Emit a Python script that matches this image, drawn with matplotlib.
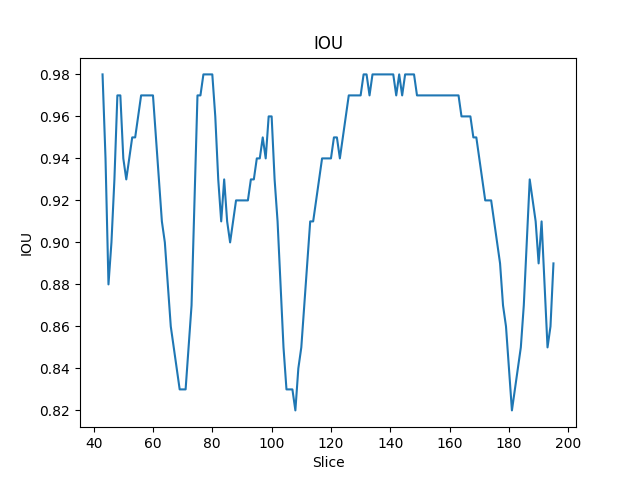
import matplotlib
matplotlib.use('Agg')
from matplotlib import pyplot as plt

# slice numbers run consecutively from 43 to 195
slices = list(range(43, 196))

iou = [
    0.98, 0.94, 0.88, 0.90, 0.93, 0.97, 0.97, 0.94, 0.93, 0.94,  # 43-52
    0.95, 0.95, 0.96, 0.97, 0.97, 0.97, 0.97, 0.97, 0.95, 0.93,  # 53-62
    0.91, 0.90, 0.88, 0.86, 0.85, 0.84, 0.83, 0.83, 0.83, 0.85,  # 63-72
    0.87, 0.92, 0.97, 0.97, 0.98, 0.98, 0.98, 0.98, 0.96, 0.93,  # 73-82
    0.91, 0.93, 0.91, 0.90, 0.91, 0.92, 0.92, 0.92, 0.92, 0.92,  # 83-92
    0.93, 0.93, 0.94, 0.94, 0.95, 0.94, 0.96, 0.96, 0.93, 0.91,  # 93-102
    0.88, 0.85, 0.83, 0.83, 0.83, 0.82, 0.84, 0.85, 0.87, 0.89,  # 103-112
    0.91, 0.91, 0.92, 0.93, 0.94, 0.94, 0.94, 0.94, 0.95, 0.95,  # 113-122
    0.94, 0.95, 0.96, 0.97, 0.97, 0.97, 0.97, 0.97, 0.98, 0.98,  # 123-132
    0.97, 0.98, 0.98, 0.98, 0.98, 0.98, 0.98, 0.98, 0.98, 0.97,  # 133-142
    0.98, 0.97, 0.98, 0.98, 0.98, 0.98, 0.97, 0.97, 0.97, 0.97,  # 143-152
    0.97, 0.97, 0.97, 0.97, 0.97, 0.97, 0.97, 0.97, 0.97, 0.97,  # 153-162
    0.97, 0.96, 0.96, 0.96, 0.96, 0.95, 0.95, 0.94, 0.93, 0.92,  # 163-172
    0.92, 0.92, 0.91, 0.90, 0.89, 0.87, 0.86, 0.84, 0.82, 0.83,  # 173-182
    0.84, 0.85, 0.87, 0.90, 0.93, 0.92, 0.91, 0.89, 0.91, 0.88,  # 183-192
    0.85, 0.86, 0.89,                                            # 193-195
]

fig, ax = plt.subplots(figsize=(6.4, 4.8), dpi=100)
ax.plot(slices, iou)
ax.set_title('IOU')
ax.set_xlabel('Slice')
ax.set_ylabel('IOU')

fig.savefig('out.png')
